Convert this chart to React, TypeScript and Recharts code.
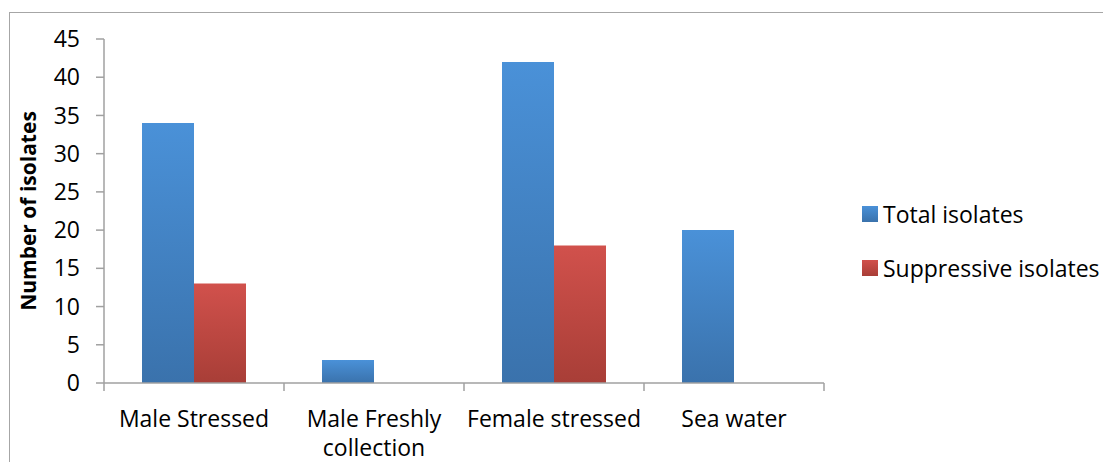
import React from 'react';
import { BarChart, Bar, XAxis, YAxis } from 'recharts';

const categories = ['Male Stressed', 'Male Freshly collection', 'Female stressed', 'Sea water'];
const totalIsolates = [34, 3, 42, 20];
const suppressiveIsolates = [13, 0, 18, 0];
const yTicks = [0, 5, 10, 15, 20, 25, 30, 35, 40, 45];

const data = categories.map((name, i) => ({
  name,
  total: totalIsolates[i],
  suppressive: suppressiveIsolates[i],
}));

const FONT = '"Open Sans", sans-serif';
const AXIS = '#a0a0a0';

// label (wrapped like the original) plus the small ticks on the category boundaries
const CategoryTick = (props: any) => {
  const { x, y, payload, width, visibleTicksCount, index } = props;
  const half = payload.offset || width / visibleTicksCount / 2;
  const text: string = payload.value;
  const lines = text === 'Male Freshly collection' ? ['Male Freshly', 'collection'] : [text];
  const last = index === visibleTicksCount - 1;
  return (
    <g>
      <line x1={x - half} x2={x - half} y1={y} y2={y + 8} stroke={AXIS} strokeWidth={1.5} />
      {last && <line x1={x + half} x2={x + half} y1={y} y2={y + 8} stroke={AXIS} strokeWidth={1.5} />}
      <text x={x} y={y} textAnchor="middle" fill="#000" fontSize={23} fontFamily={FONT}>
        {lines.map((l, i) => (
          <tspan key={i} x={x} dy={i === 0 ? 44 : 29}>
            {l}
          </tspan>
        ))}
      </text>
    </g>
  );
};

const legendItems = [
  { label: 'Total isolates', css: 'linear-gradient(#4a91d8,#3a72ac)' },
  { label: 'Suppressive isolates', css: 'linear-gradient(#d1514c,#a83e37)' },
];

export default function App() {
  return (
    <div style={{ position: 'relative', width: 1103, height: 462, overflow: 'hidden', background: '#fff' }}>
      <style>{`body{margin:0}`}</style>
      <div
        style={{
          position: 'absolute',
          left: 9,
          top: 12,
          width: 1300,
          height: 700,
          border: '1.5px solid #a6a6a6',
        }}
      />
      <div style={{ position: 'absolute', left: 0, top: 0 }}>
        <BarChart
          width={1103}
          height={462}
          data={data}
          margin={{ top: 39, right: 279, left: 0, bottom: 0 }}
          barCategoryGap={38}
          barGap={0}
        >
          <defs>
            <linearGradient id="blueGrad" x1="0" y1="0" x2="0" y2="1">
              <stop offset="0%" stopColor="#4a91d8" />
              <stop offset="100%" stopColor="#3a72ac" />
            </linearGradient>
            <linearGradient id="redGrad" x1="0" y1="0" x2="0" y2="1">
              <stop offset="0%" stopColor="#d1514c" />
              <stop offset="100%" stopColor="#a83e37" />
            </linearGradient>
          </defs>
          <XAxis
            dataKey="name"
            height={79}
            interval={0}
            tick={<CategoryTick />}
            tickLine={false}
            tickSize={0}
            tickMargin={0}
            axisLine={{ stroke: AXIS, strokeWidth: 1.5 }}
          />
          <YAxis
            width={104}
            domain={[0, 45]}
            ticks={yTicks}
            interval={0}
            tickSize={8}
            tickMargin={16}
            tick={{ fill: '#000', fontSize: 23, fontFamily: FONT }}
            axisLine={{ stroke: AXIS, strokeWidth: 1.5 }}
            tickLine={{ stroke: AXIS, strokeWidth: 1.5 }}
            label={{
              value: 'Number of isolates',
              angle: -90,
              position: 'insideLeft',
              dx: 24,
              fill: '#000',
              fontSize: 21,
              fontWeight: 'bold',
              fontFamily: FONT,
              style: { textAnchor: 'middle' },
            }}
          />
          <Bar dataKey="total" name="Total isolates" fill="url(#blueGrad)" isAnimationActive={false} />
          <Bar dataKey="suppressive" name="Suppressive isolates" fill="url(#redGrad)" isAnimationActive={false} />
        </BarChart>
      </div>
      <div style={{ position: 'absolute', left: 862, top: 198, fontFamily: FONT, fontSize: 23, color: '#000' }}>
        {legendItems.map((it, i) => (
          <div key={i} style={{ display: 'flex', alignItems: 'center', height: 32, marginBottom: i === 0 ? 22 : 0, whiteSpace: 'nowrap' }}>
            <span style={{ display: 'inline-block', width: 16, height: 16, background: it.css, marginRight: 5 }} />
            <span>{it.label}</span>
          </div>
        ))}
      </div>
    </div>
  );
}
